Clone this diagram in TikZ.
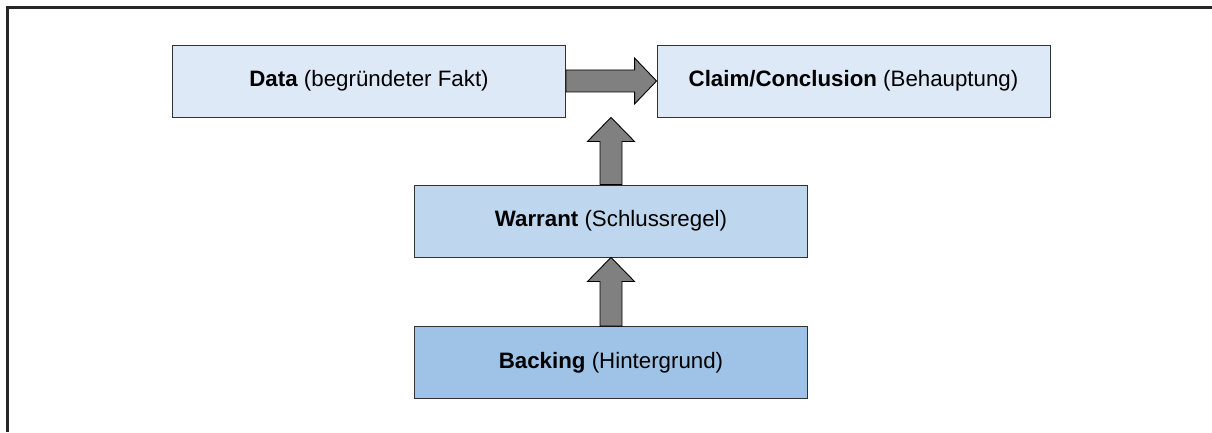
\documentclass[tikz,border=0pt]{standalone}
\usepackage{fontspec}
\setmainfont{Liberation Sans}
\usetikzlibrary{calc}
\definecolor{hell}{RGB}{221,233,246}
\definecolor{mittel}{RGB}{190,215,238}
\definecolor{dunkel}{RGB}{158,195,230}
\definecolor{pfeil}{RGB}{128,128,128}
\definecolor{rand}{RGB}{50,50,50}

\begin{document}
\begin{tikzpicture}[x=1pt,y=1pt,
  box/.style={draw=rand,line width=0.9pt,minimum width=393pt,minimum height=72pt,
    font=\fontsize{22.3}{26}\selectfont,align=center},
  blockarr/.style={draw=black,fill=pfeil,line width=0.9pt,line join=miter}]
  \useasboundingbox (0,0) rectangle (1212,432);

  % outer frame (left and top only)
  \draw[line width=2.2pt,black!85] (7.5,0) -- (7.5,424.5) -- (1212,424.5);

  % boxes
  \node[box,fill=hell] (data) at (369,351) {\textbf{Data} (begründeter Fakt)};
  \node[box,fill=hell] (claim) at (853.5,351) {\textbf{Claim/Conclusion} (Behauptung)};
  \node[box,fill=mittel] (warrant) at (611,211) {\textbf{Warrant} (Schlussregel)};
  \node[box,fill=dunkel] (backing) at (611,69.5) {\textbf{Backing} (Hintergrund)};

  % block arrows
  \coordinate (tip) at (warrant.north |- claim.south);
  \draw[blockarr] ($(data.east)+(0,11)$) -- ($(claim.west)+(-22,11)$)
    -- ($(claim.west)+(-22,23)$) -- (claim.west) -- ($(claim.west)+(-22,-23)$)
    -- ($(claim.west)+(-22,-11)$) -- ($(data.east)+(0,-11)$) -- cycle;
  \draw[blockarr] ($(warrant.north)+(-11,0)$) -- ($(tip)+(-11,-24)$)
    -- ($(tip)+(-23.5,-24)$) -- (tip) -- ($(tip)+(23.5,-24)$)
    -- ($(tip)+(11,-24)$) -- ($(warrant.north)+(11,0)$) -- cycle;
  \draw[blockarr] ($(backing.north)+(-11,0)$) -- ($(warrant.south)+(-11,-24)$)
    -- ($(warrant.south)+(-23.5,-24)$) -- (warrant.south) -- ($(warrant.south)+(23.5,-24)$)
    -- ($(warrant.south)+(11,-24)$) -- ($(backing.north)+(11,0)$) -- cycle;
\end{tikzpicture}
\end{document}
